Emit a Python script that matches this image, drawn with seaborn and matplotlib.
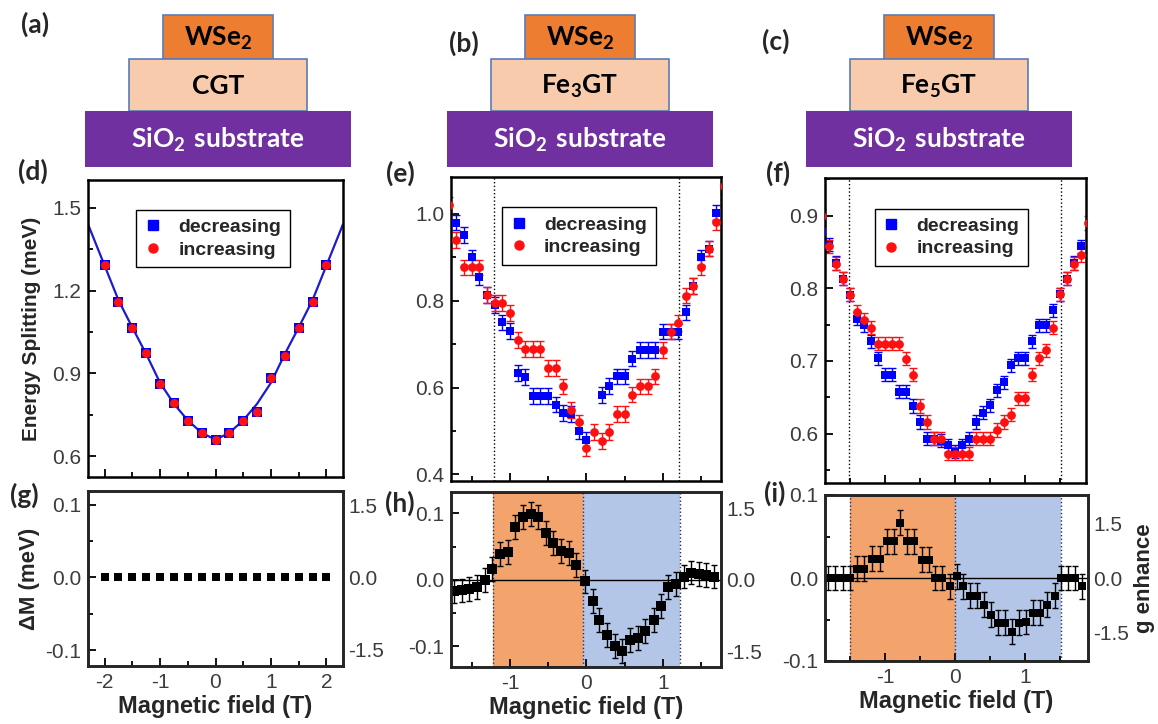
import numpy as np
import pandas as pd
import matplotlib
matplotlib.use("Agg")
import matplotlib.pyplot as plt
import seaborn as sns
from matplotlib.lines import Line2D
from matplotlib.patches import Rectangle
from matplotlib.ticker import MultipleLocator, FormatStrFormatter

# --- values ---
D_FIELD = [-2.0, -1.75, -1.5, -1.25, -1.0, -0.75, -0.5, -0.25, 0.0,
           0.25, 0.5, 0.75, 1.0, 1.25, 1.5, 1.75, 2.0]
D_DEC = [1.291, 1.159, 1.066, 0.974, 0.863, 0.794, 0.728, 0.686, 0.660,
         0.686, 0.728, 0.762, 0.885, 0.963, 1.066, 1.159, 1.291]
D_INC = [1.291, 1.159, 1.066, 0.974, 0.863, 0.794, 0.728, 0.686, 0.660,
         0.686, 0.728, 0.762, 0.885, 0.963, 1.066, 1.159, 1.291]
D_FIT_FIELD = [-2.3, -2.0, -1.75, -1.5, -1.25, -1.0, -0.75, -0.5, -0.25, 0.0,
               0.25, 0.5, 0.75, 1.0, 1.25, 1.5, 1.75, 2.0, 2.3]
D_FIT = [1.44, 1.29, 1.165, 1.066, 0.97, 0.866, 0.79, 0.73, 0.685, 0.66,
         0.685, 0.73, 0.79, 0.866, 0.97, 1.066, 1.165, 1.29, 1.44]

E_FIELD = [-1.8, -1.7, -1.6, -1.5, -1.4, -1.3, -1.2, -1.1, -1.0, -0.9, -0.8, -0.7,
           -0.6, -0.5, -0.4, -0.3, -0.2, -0.1, 0.0, 0.1, 0.2, 0.3, 0.4, 0.5, 0.6,
           0.7, 0.8, 0.9, 1.0, 1.1, 1.2, 1.3, 1.4, 1.5, 1.6, 1.7, 1.8]
E_DEC = [np.nan, 0.98, 0.952, 0.90, 0.855, 0.814, 0.79, 0.75, 0.73, 0.634, 0.625, 0.58,
         0.58, 0.58, 0.561, 0.542, 0.54, 0.50, 0.479, np.nan, 0.583, 0.604, 0.626, 0.626,
         0.667, 0.687, 0.687, 0.687, 0.729, 0.729, 0.729, 0.773, 0.834, 0.90, 0.92, 1.003,
         np.nan]
E_INC = [1.02, 0.94, 0.877, 0.877, 0.877, 0.814, 0.795, 0.795, 0.772, 0.710, 0.689, 0.689,
         0.689, 0.645, 0.645, 0.603, 0.549, 0.520, 0.460, 0.498, 0.477, 0.498, 0.540, 0.540,
         0.584, 0.603, 0.603, 0.626, 0.687, 0.729, 0.749, 0.812, 0.834, 0.877, 0.92, 0.982,
         1.065]

F_FIELD = [-1.9, -1.8, -1.7, -1.6, -1.5, -1.4, -1.3, -1.2, -1.1, -1.0, -0.9, -0.8, -0.7,
           -0.6, -0.5, -0.4, -0.3, -0.2, -0.1, 0.0, 0.1, 0.2, 0.3, 0.4, 0.5, 0.6, 0.7,
           0.8, 0.9, 1.0, 1.1, 1.2, 1.3, 1.4, 1.5, 1.6, 1.7, 1.8, 1.9]
F_DEC = [0.878, 0.86, 0.835, 0.813, 0.791, 0.758, 0.749, 0.727, 0.704, 0.681, 0.681, 0.658,
         0.658, 0.638, 0.616, 0.593, 0.593, 0.59, 0.584, 0.575, 0.584, 0.593, 0.616, 0.629,
         0.639, 0.660, 0.671, 0.694, 0.704, 0.704, 0.727, 0.749, 0.749, 0.770, 0.792, 0.813,
         0.835, 0.858, np.nan]
F_INC = [0.90, 0.858, 0.834, 0.813, 0.791, 0.768, 0.757, 0.746, 0.724, 0.724, 0.724, 0.724,
         0.703, 0.681, 0.638, 0.616, 0.593, 0.593, 0.572, 0.572, 0.572, 0.572, 0.593, 0.593,
         0.593, 0.605, 0.616, 0.626, 0.649, 0.649, 0.681, 0.704, 0.715, 0.746, 0.792, 0.813,
         0.834, 0.846, 0.89]

G_FIELD = [-2.0, -1.75, -1.5, -1.25, -1.0, -0.75, -0.5, -0.25, 0.0,
           0.25, 0.5, 0.75, 1.0, 1.25, 1.5, 1.75, 2.0]
G_DM = [0.0] * 17

H_FIELD = [-1.73, -1.63, -1.53, -1.43, -1.33, -1.23, -1.13, -1.03, -0.93, -0.83, -0.73, -0.63,
           -0.53, -0.43, -0.33, -0.23, -0.13, -0.02, 0.08, 0.17, 0.27, 0.37, 0.47, 0.57,
           0.67, 0.77, 0.88, 0.98, 1.07, 1.17, 1.27, 1.37, 1.47, 1.57, 1.67]
H_DM = [-0.0175, -0.016, -0.014, -0.011, 0.0, 0.0165, 0.039, 0.042, 0.080, 0.095, 0.099, 0.095,
        0.071, 0.056, 0.044, 0.040, 0.0225, -0.0025, -0.0325, -0.060, -0.0825, -0.100, -0.1075,
        -0.090, -0.0875, -0.0765, -0.060, -0.040, -0.011, -0.006, 0.005, 0.011, 0.009, 0.0075,
        0.005]

I_FIELD = [-1.81, -1.71, -1.60, -1.50, -1.40, -1.30, -1.19, -1.07, -0.98, -0.88, -0.79, -0.69,
           -0.59, -0.48, -0.38, -0.29, -0.19, -0.08, 0.02, 0.12, 0.21, 0.31, 0.41, 0.52, 0.62,
           0.71, 0.82, 0.92, 1.02, 1.12, 1.21, 1.31, 1.43, 1.52, 1.62, 1.71, 1.82]
I_DM = [0.0, 0.0, 0.0, 0.0, 0.011, 0.011, 0.023, 0.023, 0.044, 0.044, 0.0667, 0.044, 0.044,
        0.022, 0.022, 0.0, 0.0, -0.010, 0.002, -0.010, -0.0215, -0.0215, -0.032, -0.0445,
        -0.054, -0.054, -0.0647, -0.054, -0.053, -0.0417, -0.0417, -0.032, -0.0215, 0.0, 0.0,
        0.0, -0.010]

SWEEPS = ["decreasing", "increasing"]

# --- style ---
sns.set_style("ticks")
plt.rcParams['font.family'] = ['Liberation Sans', 'DejaVu Sans']
plt.rcParams['mathtext.fontset'] = 'custom'
plt.rcParams['mathtext.rm'] = 'Lato'
plt.rcParams['mathtext.bf'] = 'Lato:bold'
plt.rcParams['axes.unicode_minus'] = False

W, H = 1158, 724
fig = plt.figure(figsize=(W / 100, H / 100), dpi=100)

BLUE, RED = '#0000ff', '#ff1010'
ORANGE_FILL, BLUE_FILL = '#f3a46c', '#b3c6e7'
TICK_COL = '#3c3c3c'


def px_axes(x0, y0, x1, y1):
    return fig.add_axes([x0 / W, 1 - y1 / H, (x1 - x0) / W, (y1 - y0) / H])


def style(ax, xmaj, xmin, ymaj, ymin, xlabels=True):
    for s in ax.spines.values():
        s.set_linewidth(1.8)
        s.set_color('black')
    ax.xaxis.set_major_locator(MultipleLocator(xmaj))
    ax.xaxis.set_minor_locator(MultipleLocator(xmin))
    ax.yaxis.set_major_locator(MultipleLocator(ymaj))
    ax.yaxis.set_minor_locator(MultipleLocator(ymin))
    ax.tick_params(which='both', direction='in', colors='black', labelcolor=TICK_COL,
                   labelsize=15, width=1.3, top=False, right=False)
    ax.tick_params(which='major', length=6)
    ax.tick_params(which='minor', length=3.5)
    ax.tick_params(axis='y', pad=5)
    ax.tick_params(axis='x', pad=5, labelbottom=xlabels)
    ax.set_xlabel('')
    ax.set_ylabel('')


def sweep_panel(ax, field, dec, inc, err, s_sq, s_ci):
    ax.errorbar(field, dec, yerr=err, fmt='none', ecolor=BLUE, elinewidth=1.0,
                capsize=3, capthick=1.0, zorder=2)
    ax.errorbar(field, inc, yerr=err, fmt='none', ecolor=RED, elinewidth=1.0,
                capsize=3, capthick=1.0, zorder=2)
    df = pd.concat([
        pd.DataFrame({'field': field, 'split': dec, 'sweep': SWEEPS[0]}),
        pd.DataFrame({'field': field, 'split': inc, 'sweep': SWEEPS[1]}),
    ]).dropna()
    sns.scatterplot(data=df[df.sweep == SWEEPS[0]], x='field', y='split', marker='s',
                    color=BLUE, s=s_sq, linewidth=0, ax=ax, zorder=3, legend=False)
    sns.scatterplot(data=df[df.sweep == SWEEPS[1]], x='field', y='split', marker='o',
                    color=RED, s=s_ci, linewidth=0, ax=ax, zorder=4, legend=False)
    handles = [Line2D([], [], ls='none', marker='s', color=BLUE, markersize=6.5),
               Line2D([], [], ls='none', marker='o', color=RED, markersize=6.5)]
    leg = ax.legend(handles, SWEEPS, loc='upper left', bbox_to_anchor=(0.19, 0.9),
                    frameon=True, fancybox=False, framealpha=1, edgecolor='black',
                    prop={'weight': 'bold', 'size': 14}, handlelength=0.8,
                    handletextpad=0.9, borderpad=0.45, labelspacing=0.25,
                    borderaxespad=0)
    leg.get_frame().set_linewidth(1.0)


def delta_panel(ax, field, dm, err, s_sq):
    if err:
        ax.errorbar(field, dm, yerr=err, fmt='none', ecolor='black', elinewidth=1.0,
                    capsize=2.5, capthick=1.0, zorder=2)
    sns.scatterplot(x=field, y=dm, marker='s', color='black', s=s_sq, linewidth=0,
                    ax=ax, zorder=3, legend=False)


def right_axis(ax, lim):
    ax2 = ax.twinx()
    ax2.set_ylim(*lim)
    ax2.set_yticks([-1.5, 0.0, 1.5])
    ax2.yaxis.set_major_formatter(FormatStrFormatter('%.1f'))
    ax2.tick_params(direction='in', length=0, labelsize=15, labelcolor=TICK_COL, pad=4)
    for s in ax2.spines.values():
        s.set_linewidth(1.8)
    return ax2


# --- layer-stack sketches (a)-(c) ---
top = fig.add_axes([0, 0, 1, 1])
top.set_xlim(0, W)
top.set_ylim(H, 0)
top.axis('off')

stacks = [
    (218, 'CGT'),
    (580, r'$\mathbf{Fe_3GT}$'),
    (939, r'$\mathbf{Fe_5GT}$'),
]
for cx, mid in stacks:
    top.add_patch(Rectangle((cx - 55, 15), 110, 44, facecolor='#ed7d31',
                            edgecolor='#5b7bb5', lw=1.2))
    top.add_patch(Rectangle((cx - 89, 59), 178, 52, facecolor='#f8cbad',
                            edgecolor='#5b7bb5', lw=1.2))
    top.add_patch(Rectangle((cx - 133, 111), 266, 56, facecolor='#7030a0',
                            edgecolor='none'))
    top.text(cx, 38, r'$\mathbf{WSe_2}$', ha='center', va='center', fontsize=19,
             color='black')
    top.text(cx, 86, mid, ha='center', va='center', fontsize=19, color='black',
             family='Lato', weight='bold')
    top.text(cx, 140, r'$\mathbf{SiO_2\ substrate}$', ha='center', va='center',
             fontsize=19, color='white')

for lab, x, y in [('(a)', 35, 24), ('(b)', 464, 43), ('(c)', 776, 41),
                  ('(d)', 33, 171), ('(e)', 400, 173), ('(f)', 778, 173),
                  ('(g)', 24, 495), ('(h)', 400, 503), ('(i)', 775, 493)]:
    fig.text(x / W, 1 - y / H, lab, ha='center', va='center', fontsize=19,
             family='Lato', weight='bold')

# --- (d) CGT ---
ax_d = px_axes(88, 180, 343, 477)
sns.lineplot(x=D_FIT_FIELD, y=D_FIT, color='#1c1ccc', lw=1.6, ax=ax_d, sort=False,
             estimator=None, zorder=2)
sweep_panel(ax_d, D_FIELD, D_DEC, D_INC, 0, 62, 42)
ax_d.set_xlim(-2.3, 2.3)
ax_d.set_ylim(0.525, 1.6)
style(ax_d, 1, 0.5, 0.3, 0.15, xlabels=False)
ax_d.set_ylabel('Energy Splitting (meV)', fontsize=15, weight='bold', labelpad=8)

# --- (e) Fe3GT ---
ax_e = px_axes(451, 177, 721, 481)
for xv in (-1.21, 1.21):
    ax_e.axvline(xv, color='black', ls=':', lw=1.0, zorder=1)
sweep_panel(ax_e, E_FIELD, E_DEC, E_INC, 0.018, 40, 40)
ax_e.set_xlim(-1.77, 1.76)
ax_e.set_ylim(0.385, 1.085)
style(ax_e, 1, 0.5, 0.2, 0.1, xlabels=False)

# --- (f) Fe5GT ---
ax_f = px_axes(825, 178, 1086, 483)
for xv in (-1.51, 1.51):
    ax_f.axvline(xv, color='black', ls=':', lw=1.0, zorder=1)
sweep_panel(ax_f, F_FIELD, F_DEC, F_INC, 0.009, 40, 40)
ax_f.set_xlim(-1.86, 1.87)
ax_f.set_ylim(0.532, 0.952)
style(ax_f, 1, 0.5, 0.1, 0.05, xlabels=False)

# --- (g) ---
ax_g = px_axes(88, 491, 343, 666)
delta_panel(ax_g, G_FIELD, G_DM, 0, 34)
ax_g.set_xlim(-2.3, 2.3)
ax_g.set_ylim(-0.122, 0.119)
style(ax_g, 1, 0.5, 0.1, 0.05)
ax_g.yaxis.set_major_formatter(FormatStrFormatter('%.1f'))
ax_g.set_ylabel('ΔM (meV)', fontsize=16, weight='bold', labelpad=4)
right_axis(ax_g, (-1.85, 1.8))

# --- (h) ---
ax_h = px_axes(451, 492, 721, 667)
ax_h.axvspan(-1.22, -0.05, color=ORANGE_FILL, lw=0, zorder=0)
ax_h.axvspan(-0.05, 1.22, color=BLUE_FILL, lw=0, zorder=0)
for xv in (-1.22, -0.05, 1.22):
    ax_h.axvline(xv, color='#2a2a55', ls=':', lw=1.0, zorder=1)
ax_h.axhline(0, color='black', lw=1.0, zorder=1)
delta_panel(ax_h, H_FIELD, H_DM, 0.018, 42)
ax_h.set_xlim(-1.77, 1.76)
ax_h.set_ylim(-0.131, 0.132)
style(ax_h, 1, 0.5, 0.1, 0.05)
ax_h.yaxis.set_major_formatter(FormatStrFormatter('%.1f'))
right_axis(ax_h, (-1.83, 1.84))

# --- (i) ---
ax_i = px_axes(825, 495, 1088, 661)
ax_i.axvspan(-1.5, 0.0, color=ORANGE_FILL, lw=0, zorder=0)
ax_i.axvspan(0.0, 1.52, color=BLUE_FILL, lw=0, zorder=0)
for xv in (-1.5, 0.0, 1.52):
    ax_i.axvline(xv, color='#2a2a55', ls=':', lw=1.0, zorder=1)
ax_i.axhline(0, color='black', lw=1.0, zorder=1)
delta_panel(ax_i, I_FIELD, I_DM, 0.015, 36)
ax_i.set_xlim(-1.86, 1.9)
ax_i.set_ylim(-0.1, 0.1)
style(ax_i, 1, 0.5, 0.1, 0.05)
ax_i.yaxis.set_major_formatter(FormatStrFormatter('%.1f'))
ax_i2 = right_axis(ax_i, (-2.27, 2.27))
ax_i2.set_ylabel('g enhance', fontsize=16, weight='bold', labelpad=3)

for ax in (ax_g, ax_h, ax_i):
    ax.set_xlabel('Magnetic field (T)', fontsize=17, weight='bold', labelpad=2)

fig.savefig('out.png', dpi=100)
